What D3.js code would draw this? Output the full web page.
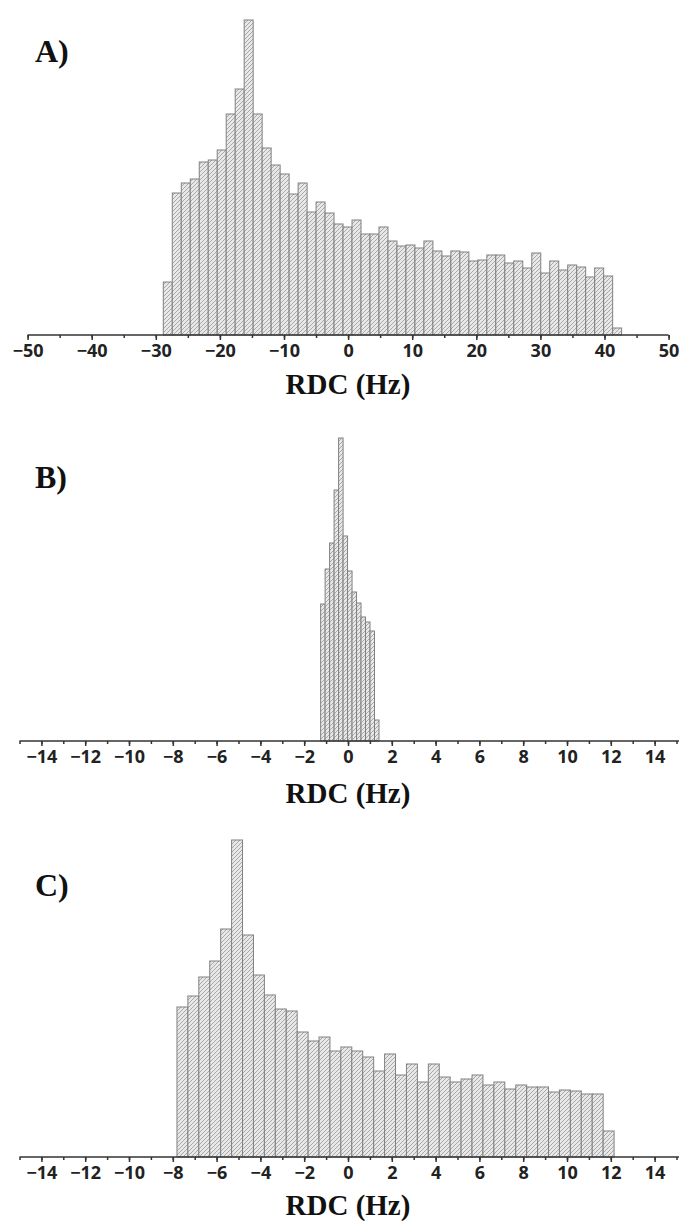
<!DOCTYPE html>
<html>
<head>
<meta charset="utf-8">
<script src="https://cdn.jsdelivr.net/npm/d3@7"></script>
<style>
  body { margin: 0; background: #fff; }
  svg { display: block; }
  .tick text { font-family: "Open Sans", sans-serif; font-weight: 700; font-size: 18px; fill: #222; }
  .panel-label, .axis-title { font-family: "Liberation Serif", "Times New Roman", serif; font-weight: 700; fill: #111; }
</style>
</head>
<body>
<svg id="chart" width="680" height="1221"></svg>
<script>
// panel A: bins start / width (Hz) and bar heights (counts)
var binStartA = -28.83, binWidthA = 1.402;
var countsA = [53,142,152,156,173,175,185,221,246,315,221,187,170,161,141,152,123,
  133,122,111,108,115,101,101,108,94,89,90,87,94,84,79,84,83,74,75,80,80,72,74,67,82,62,74,65,70,68,58,67,59,7];
var ticksA = [-50,-40,-30,-20,-10,0,10,20,30,40,50];

// panel B
var binStartB = -1.25, binWidthB = 0.205;
var countsB = [137,172,198,251,303,205,170,149,138,124,119,110,21];
var ticksBC = [-14,-12,-10,-8,-6,-4,-2,0,2,4,6,8,10,12,14];

// panel C
var binStartC = -7.81, binWidthC = 0.499;
var countsC = [150,161,180,196,228,317,222,182,162,148,146,125,116,120,106,
  110,106,100,86,103,82,93,75,93,80,75,78,82,72,75,68,72,70,70,65,67,66,63,63,26];

var svg = d3.select("#chart");

var defs = svg.append("defs");
var pat = defs.append("pattern")
  .attr("id", "hatch")
  .attr("patternUnits", "userSpaceOnUse")
  .attr("width", 4).attr("height", 4);
pat.append("rect").attr("width", 4).attr("height", 4).attr("fill", "#e8e8e8");
pat.append("path")
  .attr("d", "M-1,1 l2,-2 M0,4 l4,-4 M3,5 l2,-2")
  .attr("stroke", "#a0a0a0").attr("stroke-width", 0.9);

var panels = [
  {label: "A)", start: binStartA, width: binWidthA, counts: countsA, ticks: ticksA, minor: 5,
    domain: [-50, 50], range: [27.6, 668.6], base: 335, top: 20, labelY: 62, titleY: 394},
  {label: "B)", start: binStartB, width: binWidthB, counts: countsB, ticks: ticksBC, minor: 1,
    domain: [-15, 15], range: [19.5, 676.5], base: 741, top: 438, labelY: 488, titleY: 803},
  {label: "C)", start: binStartC, width: binWidthC, counts: countsC, ticks: ticksBC, minor: 1,
    domain: [-15, 15], range: [19.5, 676.5], base: 1157, top: 840, labelY: 896, titleY: 1215}
];

panels.forEach(function(p){
  var x = d3.scaleLinear().domain(p.domain).range(p.range),
    y = d3.scaleLinear().domain([0, d3.max(p.counts)]).range([p.base, p.top]),
    g = svg.append("g");

  var bins = p.counts.map(function(c, i){
    return {x0: p.start + i * p.width, x1: p.start + (i + 1) * p.width, n: c};
  });

  g.selectAll("rect.bar")
    .data(bins)
    .enter().append("rect")
    .attr("class", "bar")
    .attr("x", function(d){ return x(d.x0); })
    .attr("width", function(d){ return x(d.x1) - x(d.x0); })
    .attr("y", function(d){ return y(d.n); })
    .attr("height", function(d){ return y(0) - y(d.n); })
    .attr("fill", "url(#hatch)")
    .attr("stroke", "#808080")
    .attr("stroke-width", 1);

  // minor ticks
  var minorTicks = d3.range(p.domain[0], p.domain[1] + 0.001, p.minor);
  g.append("g")
    .attr("transform", "translate(0," + p.base + ")")
    .call(d3.axisBottom(x).tickValues(minorTicks).tickSize(3).tickFormat(""))
    .call(function(a){ a.select(".domain").remove(); })
    .selectAll("line").attr("stroke", "#333").attr("stroke-width", 1.5);

  // major ticks + labels
  var ax = g.append("g")
    .attr("transform", "translate(0," + p.base + ")")
    .call(d3.axisBottom(x).tickValues(p.ticks).tickSize(5).tickPadding(4).tickFormat(d3.format("d")));
  ax.select(".domain").attr("d", "M" + p.range[0] + ",0H" + (p.label == "A)" ? p.range[1] : 679))
    .attr("stroke", "#333").attr("stroke-width", 1.6);
  ax.selectAll("line").attr("stroke", "#333").attr("stroke-width", 1.5);

  svg.append("text")
    .attr("class", "panel-label")
    .attr("x", 35)
    .attr("y", p.labelY)
    .attr("font-size", 32)
    .text(p.label);

  svg.append("text")
    .attr("class", "axis-title")
    .attr("x", 348)
    .attr("y", p.titleY)
    .attr("text-anchor", "middle")
    .attr("font-size", 29)
    .text("RDC (Hz)");
});
</script>
</body>
</html>
